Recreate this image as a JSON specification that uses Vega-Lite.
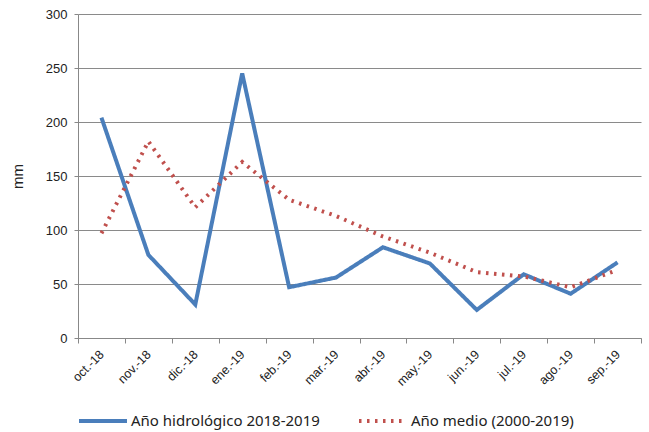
{
  "$schema": "https://vega.github.io/schema/vega-lite/v6.json",
  "width": 563,
  "height": 324,
  "autosize": "none",
  "padding": {"left": 78, "top": 14, "right": 8, "bottom": 94},
  "background": "white",
  "config": {
    "view": {"stroke": null},
    "font": "Liberation Sans"
  },
  "data": {
    "values": [
      {"mes": "oct.-18", "serie": "Año hidrológico 2018-2019", "mm": 204},
      {"mes": "nov.-18", "serie": "Año hidrológico 2018-2019", "mm": 77},
      {"mes": "dic.-18", "serie": "Año hidrológico 2018-2019", "mm": 31},
      {"mes": "ene.-19", "serie": "Año hidrológico 2018-2019", "mm": 245},
      {"mes": "feb.-19", "serie": "Año hidrológico 2018-2019", "mm": 47},
      {"mes": "mar.-19", "serie": "Año hidrológico 2018-2019", "mm": 56},
      {"mes": "abr.-19", "serie": "Año hidrológico 2018-2019", "mm": 84},
      {"mes": "may.-19", "serie": "Año hidrológico 2018-2019", "mm": 69},
      {"mes": "jun.-19", "serie": "Año hidrológico 2018-2019", "mm": 26},
      {"mes": "jul.-19", "serie": "Año hidrológico 2018-2019", "mm": 59},
      {"mes": "ago.-19", "serie": "Año hidrológico 2018-2019", "mm": 41},
      {"mes": "sep.-19", "serie": "Año hidrológico 2018-2019", "mm": 70},
      {"mes": "oct.-18", "serie": "Año medio (2000-2019)", "mm": 97},
      {"mes": "nov.-18", "serie": "Año medio (2000-2019)", "mm": 182},
      {"mes": "dic.-18", "serie": "Año medio (2000-2019)", "mm": 121},
      {"mes": "ene.-19", "serie": "Año medio (2000-2019)", "mm": 163},
      {"mes": "feb.-19", "serie": "Año medio (2000-2019)", "mm": 128},
      {"mes": "mar.-19", "serie": "Año medio (2000-2019)", "mm": 113},
      {"mes": "abr.-19", "serie": "Año medio (2000-2019)", "mm": 94},
      {"mes": "may.-19", "serie": "Año medio (2000-2019)", "mm": 79},
      {"mes": "jun.-19", "serie": "Año medio (2000-2019)", "mm": 61},
      {"mes": "jul.-19", "serie": "Año medio (2000-2019)", "mm": 57},
      {"mes": "ago.-19", "serie": "Año medio (2000-2019)", "mm": 47},
      {"mes": "sep.-19", "serie": "Año medio (2000-2019)", "mm": 63}
    ]
  },
  "mark": {"type": "line", "strokeWidth": 4, "strokeCap": "butt"},
  "encoding": {
    "x": {
      "field": "mes",
      "type": "ordinal",
      "sort": null,
      "bandPosition": 0.5,
      "scale": {"type": "band", "paddingInner": 0, "paddingOuter": 0},
      "axis": {
        "title": null,
        "labelAngle": -45,
        "labelAlign": "right",
        "labelBaseline": "middle",
        "labelFontSize": 12.5,
        "labelColor": "#222222",
        "labelPadding": 9,
        "tickBand": "extent",
        "tickSize": 5,
        "tickColor": "#888888",
        "domainColor": "#888888",
        "grid": false
      }
    },
    "y": {
      "field": "mm",
      "type": "quantitative",
      "scale": {"domain": [0, 300], "nice": false},
      "axis": {
        "title": "mm",
        "titleFontSize": 15,
        "titleFontWeight": "normal",
        "titleColor": "#222222",
        "titlePadding": 20,
        "values": [0, 50, 100, 150, 200, 250, 300],
        "labelFontSize": 13,
        "labelColor": "#222222",
        "labelPadding": 7,
        "tickSize": 4,
        "tickColor": "#888888",
        "domainColor": "#888888",
        "gridColor": "#8a8a8a",
        "gridWidth": 1
      }
    },
    "color": {
      "field": "serie",
      "type": "nominal",
      "scale": {"domain": ["Año hidrológico 2018-2019", "Año medio (2000-2019)"], "range": ["#4A7EBB", "#C0504D"]},
      "legend": {
        "title": null,
        "orient": "none",
        "legendX": -1,
        "legendY": 381,
        "direction": "horizontal",
        "symbolType": "stroke",
        "symbolSize": 2304,
        "symbolStrokeWidth": 4,
        "labelFont": "Noto Sans",
        "labelFontSize": 15,
        "labelColor": "#222222",
        "labelOffset": 2,
        "labelLimit": 400,
        "columnPadding": 31
      }
    },
    "strokeDash": {
      "field": "serie",
      "type": "nominal",
      "scale": {"domain": ["Año hidrológico 2018-2019", "Año medio (2000-2019)"], "range": [[1, 0], [2.5, 5.5]]},
      "legend": null
    }
  }
}
